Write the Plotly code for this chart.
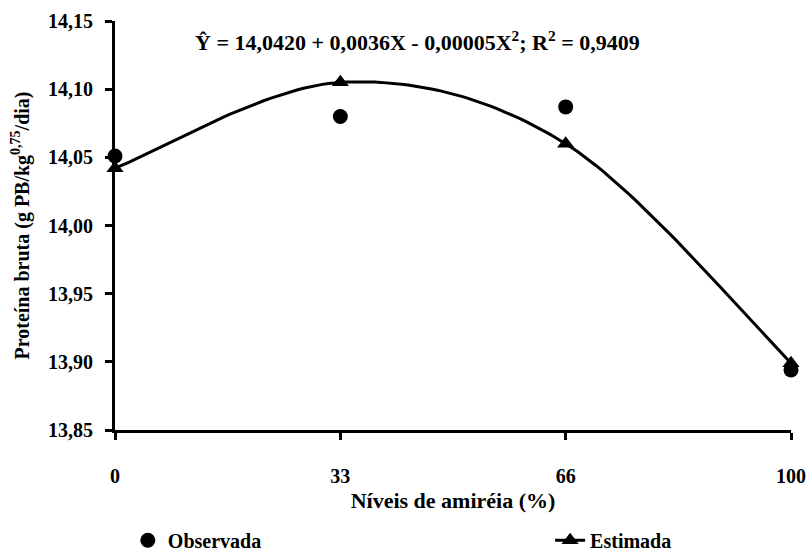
import numpy as np
import plotly.graph_objects as go

# Níveis de amiréia (%) e proteína bruta
niveis = ["0", "33", "66", "100"]
observada = [14.051, 14.080, 14.087, 13.894]
estimada = [14.042, 14.105, 14.060, 13.899]

y_ticks = [13.85, 13.90, 13.95, 14.00, 14.05, 14.10, 14.15]

FONT = "Liberation Serif"
TXT = dict(family=FONT, size=20, color="black", weight="bold")
TXT_BIG = dict(family=FONT, size=22, color="black", weight="bold")

pos = list(range(len(niveis)))


def smooth_curve(xs, ys, steps=40):
    """Cubic Bezier smoothing through the points (spreadsheet-style smoothed line)."""
    px = np.asarray(xs, float)
    py = np.asarray(ys, float)
    n = len(px)
    out_x, out_y = [], []
    t = np.linspace(0, 1, steps)
    for i in range(n - 1):
        i0, i2 = max(i - 1, 0), min(i + 2, n - 1)
        c1x = px[i] + (px[i + 1] - px[i0]) / 6
        c1y = py[i] + (py[i + 1] - py[i0]) / 6
        c2x = px[i + 1] - (px[i2] - px[i]) / 6
        c2y = py[i + 1] - (py[i2] - py[i]) / 6
        bx = ((1 - t) ** 3) * px[i] + 3 * ((1 - t) ** 2) * t * c1x + 3 * (1 - t) * t ** 2 * c2x + t ** 3 * px[i + 1]
        by = ((1 - t) ** 3) * py[i] + 3 * ((1 - t) ** 2) * t * c1y + 3 * (1 - t) * t ** 2 * c2y + t ** 3 * py[i + 1]
        out_x.extend(bx.tolist())
        out_y.extend(by.tolist())
    return out_x, out_y


curve_x, curve_y = smooth_curve(pos, estimada)

# isolated points (separated by gaps) so the legend entry shows line + marker
tri_x, tri_y = [], []
for xv, yv in zip(pos, estimada):
    tri_x += [xv, None]
    tri_y += [yv, None]

fig = go.Figure()

fig.add_trace(go.Scatter(
    x=curve_x, y=curve_y, mode="lines",
    line=dict(color="black", width=3),
    showlegend=False, hoverinfo="skip", cliponaxis=False,
))
fig.add_trace(go.Scatter(
    x=pos, y=observada, name="Observada",
    mode="markers",
    marker=dict(symbol="circle", size=15, color="black"),
    cliponaxis=False, legend="legend",
))
fig.add_trace(go.Scatter(
    x=tri_x, y=tri_y, name="Estimada",
    mode="lines+markers", connectgaps=False,
    line=dict(color="black", width=3),
    marker=dict(symbol="triangle-up", size=15, color="black"),
    cliponaxis=False, legend="legend2",
))

fig.add_annotation(
    x=0.448, y=0.95, xref="paper", yref="paper",
    text="Ŷ = 14,0420 + 0,0036X - 0,00005X<sup>2</sup>; R<sup>2</sup> = 0,9409",
    showarrow=False, font=TXT_BIG,
    xanchor="center", yanchor="middle",
)

fig.update_layout(
    width=809, height=557,
    margin=dict(l=115, r=18, t=21, b=127, autoexpand=False),
    plot_bgcolor="white", paper_bgcolor="white",
    separators=",.",
    font=TXT,
    showlegend=True,
    xaxis=dict(
        range=[0, 3], tickvals=pos, ticktext=niveis,
        showline=True, linecolor="black", linewidth=3,
        ticks="outside", ticklen=7, tickwidth=3, tickcolor="black",
        ticklabelstandoff=19,
        showgrid=False, zeroline=False,
        tickfont=TXT,
        title=dict(text="Níveis de amiréia (%)", standoff=7, font=TXT_BIG),
    ),
    yaxis=dict(
        range=[13.85, 14.15], tickvals=y_ticks, tickformat=".2f",
        showline=True, linecolor="black", linewidth=3,
        ticks="outside", ticklen=7, tickwidth=3, tickcolor="black",
        ticklabelstandoff=8,
        showgrid=False, zeroline=False,
        tickfont=TXT,
        title=dict(text="Proteína bruta (g PB/kg<sup>0,75</sup>/dia)", standoff=14, font=TXT),
    ),
    legend=dict(orientation="h", xref="container", yref="container",
                x=0.158, y=0.03, xanchor="left", yanchor="middle",
                bgcolor="rgba(0,0,0,0)", font=TXT),
    legend2=dict(orientation="h", xref="container", yref="container",
                 x=0.68, y=0.03, xanchor="left", yanchor="middle",
                 bgcolor="rgba(0,0,0,0)", font=TXT),
)

fig.write_html("out.html")
